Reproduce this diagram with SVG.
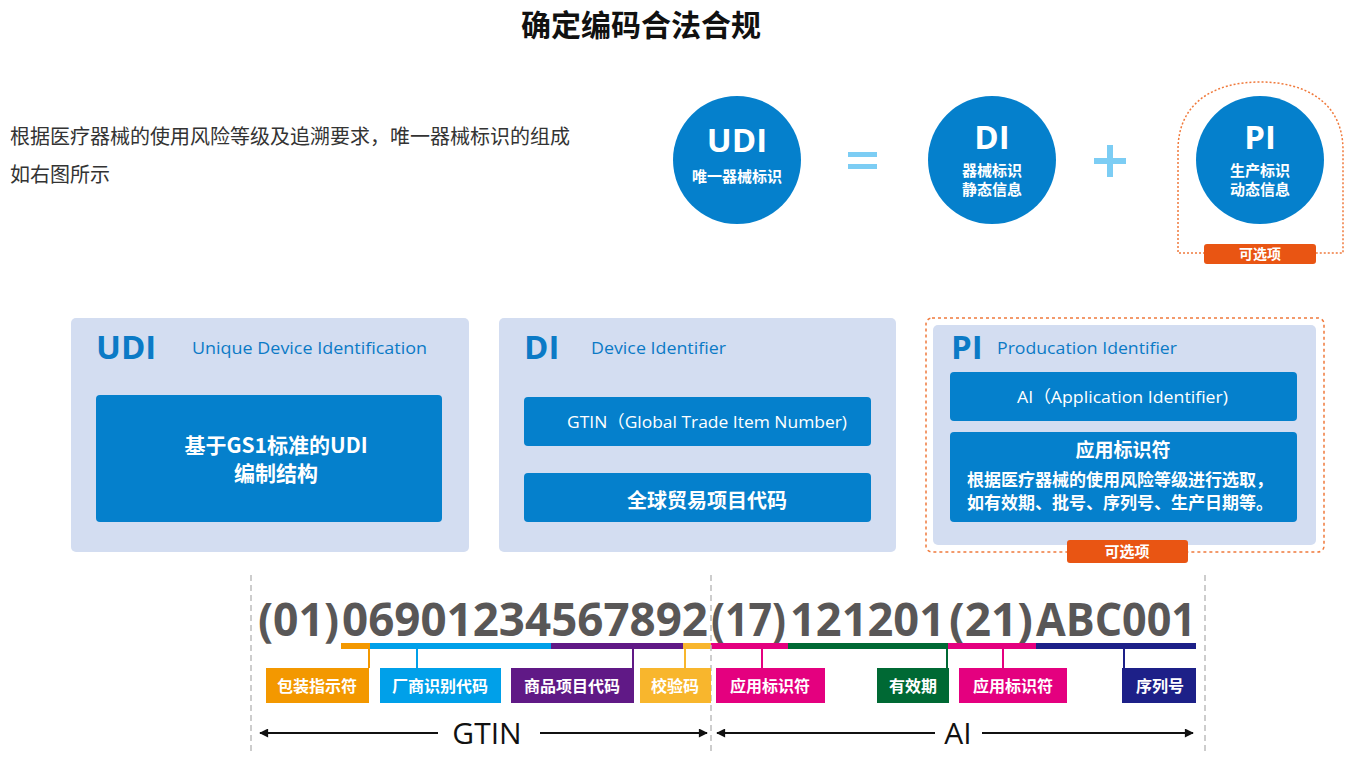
<svg xmlns="http://www.w3.org/2000/svg" width="1353" height="760" viewBox="0 0 1353 760">
<defs>
<style>
text{font-family:"Open Sans","Noto Sans CJK SC",sans-serif}
.cj{font-family:"Noto Sans CJK SC","Open Sans",sans-serif}
.circ{fill:#0580cc}
.panel{fill:#d3ddf1}
.inner{fill:#0580cc}
.wt{fill:#fff;font-weight:bold}
.hd{fill:#0b7ac6;font-weight:bold}
.sub{fill:#0b7ac6}
.badge{fill:#e95513}
.code{font-size:46px;font-weight:bold;fill:#595757}
.lbl{fill:#fff;font-size:16px;font-weight:bold;text-anchor:middle}
.dash{stroke:#bdbdbd;stroke-width:1.5;stroke-dasharray:6 4;fill:none}
.arr{stroke:#111;stroke-width:2;fill:none}
</style>
<marker id="ah" viewBox="0 0 10 10" refX="9" refY="5" markerWidth="10" markerHeight="9" markerUnits="userSpaceOnUse" orient="auto-start-reverse">
<path d="M0,0 L10,5 L0,10 z" fill="#111"/>
</marker>
</defs>
<rect width="1353" height="760" fill="#fff"/>

<g id="title">
<text class="cj" x="641" y="36" font-size="30" font-weight="bold" fill="#111" text-anchor="middle">确定编码合法合规</text>
</g>

<g id="intro">
<text class="cj" x="10" y="144" font-size="20" fill="#333">根据医疗器械的使用风险等级及追溯要求，唯一器械标识的组成</text>
<text class="cj" x="10" y="182" font-size="20" fill="#333">如右图所示</text>
</g>

<g id="udi-circle">
<circle class="circ" cx="737" cy="160" r="64"/>
<text class="wt" x="737" y="152" font-size="33" text-anchor="middle">UDI</text>
<text class="wt cj" x="737" y="182" font-size="15" text-anchor="middle">唯一器械标识</text>
</g>

<g id="equals">
<rect x="848" y="152" width="29" height="5" fill="#7ccdf4"/>
<rect x="848" y="164" width="29" height="5" fill="#7ccdf4"/>
</g>

<g id="di-circle">
<circle class="circ" cx="992" cy="160" r="64"/>
<text class="wt" x="992" y="149" font-size="33" text-anchor="middle">DI</text>
<text class="wt cj" x="992" y="176" font-size="15" text-anchor="middle">器械标识</text>
<text class="wt cj" x="992" y="195" font-size="15" text-anchor="middle">静态信息</text>
</g>

<g id="plus">
<rect x="1094" y="158" width="32" height="6" fill="#7ccdf4"/>
<rect x="1107" y="145" width="6" height="32" fill="#7ccdf4"/>
</g>

<g id="pi-circle">
<path d="M1205,253 L1178,253 L1178,150 C1178,102 1215,82 1260,82 C1305,82 1343,102 1343,150 L1343,253 L1316,253" fill="none" stroke="#f07a3c" stroke-width="1.5" stroke-dasharray="2 2"/>
<circle class="circ" cx="1260" cy="160" r="64"/>
<text class="wt" x="1260" y="149" font-size="33" text-anchor="middle">PI</text>
<text class="wt cj" x="1260" y="176" font-size="15" text-anchor="middle">生产标识</text>
<text class="wt cj" x="1260" y="195" font-size="15" text-anchor="middle">动态信息</text>
<rect class="badge" x="1204" y="244" width="112" height="20" rx="3"/>
<text class="wt cj" x="1260" y="259" font-size="14" text-anchor="middle">可选项</text>
</g>

<g id="udi-box">
<rect class="panel" x="71" y="318" width="398" height="234" rx="5"/>
<text class="hd" x="96" y="359" font-size="33">UDI</text>
<text class="sub" x="192" y="354" font-size="17" textLength="235" lengthAdjust="spacingAndGlyphs">Unique Device Identification</text>
<rect class="inner" x="96" y="395" width="346" height="127" rx="4"/>
<text class="wt cj" x="276" y="453" font-size="21" text-anchor="middle">基于GS1标准的UDI</text>
<text class="wt cj" x="276" y="481" font-size="21" text-anchor="middle">编制结构</text>
</g>

<g id="di-box">
<rect class="panel" x="499" y="318" width="397" height="234" rx="5"/>
<text class="hd" x="524" y="359" font-size="33">DI</text>
<text class="sub" x="591" y="354" font-size="17" textLength="135" lengthAdjust="spacingAndGlyphs">Device Identifier</text>
<rect class="inner" x="524" y="397" width="347" height="49" rx="4"/>
<text x="567" y="428" font-size="17" fill="#fff" textLength="280" lengthAdjust="spacingAndGlyphs">GTIN（Global Trade Item Number)</text>
<rect class="inner" x="524" y="473" width="347" height="49" rx="4"/>
<text class="wt cj" x="707" y="508" font-size="20" text-anchor="middle">全球贸易项目代码</text>
</g>

<g id="pi-box">
<rect x="926" y="318" width="398" height="234" rx="6" fill="none" stroke="#f07a3c" stroke-width="1.5" stroke-dasharray="3 3"/>
<rect class="panel" x="933" y="325" width="383" height="220" rx="5"/>
<text class="hd" x="951" y="359" font-size="33">PI</text>
<text class="sub" x="997" y="354" font-size="17" textLength="180" lengthAdjust="spacingAndGlyphs">Producation Identifier</text>
<rect class="inner" x="950" y="372" width="347" height="49" rx="4"/>
<text x="1017" y="403" font-size="17" fill="#fff" textLength="211" lengthAdjust="spacingAndGlyphs">AI（Application Identifier)</text>
<rect class="inner" x="950" y="432" width="347" height="90" rx="4"/>
<text class="wt cj" x="1123" y="457" font-size="19" text-anchor="middle">应用标识符</text>
<text class="wt cj" x="1120" y="486" font-size="17" text-anchor="middle">根据医疗器械的使用风险等级进行选取，</text>
<text class="wt cj" x="1120" y="509" font-size="17" text-anchor="middle">如有效期、批号、序列号、生产日期等。</text>
<rect class="badge" x="1067" y="540" width="121" height="23" rx="3"/>
<text class="wt cj" x="1127" y="557" font-size="15" text-anchor="middle">可选项</text>
</g>

<g id="code">
<text class="code" x="258" y="636" textLength="81" lengthAdjust="spacingAndGlyphs">(01)</text>
<text class="code" x="342" y="636" textLength="366" lengthAdjust="spacingAndGlyphs">06901234567892</text>
<text class="code" x="711" y="636" textLength="75" lengthAdjust="spacingAndGlyphs">(17)</text>
<text class="code" x="790" y="636" textLength="155" lengthAdjust="spacingAndGlyphs">121201</text>
<text class="code" x="949" y="636" textLength="84" lengthAdjust="spacingAndGlyphs">(21)</text>
<text class="code" x="1036" y="636" textLength="160" lengthAdjust="spacingAndGlyphs">ABC001</text>
<rect x="341" y="643" width="29" height="6" fill="#f39800"/>
<rect x="370" y="643" width="181" height="6" fill="#00a0e9"/>
<rect x="551" y="643" width="132" height="6" fill="#601986"/>
<rect x="683" y="643" width="28" height="6" fill="#f8b62d"/>
<rect x="711" y="643" width="77" height="6" fill="#e4007f"/>
<rect x="788" y="643" width="160" height="6" fill="#006934"/>
<rect x="948" y="643" width="88" height="6" fill="#e4007f"/>
<rect x="1036" y="643" width="160" height="6" fill="#1d2088"/>
</g>

<g id="dividers">
<line class="dash" x1="251" y1="575" x2="251" y2="755"/>
<line class="dash" x1="711" y1="575" x2="711" y2="755"/>
<line class="dash" x1="1205" y1="575" x2="1205" y2="755"/>
</g>

<g id="label-indicator">
<rect x="266" y="668" width="103" height="35" fill="#f39800"/>
<text class="lbl cj" x="317" y="692">包装指示符</text>
</g>
<g id="label-company">
<rect x="380" y="668" width="121" height="35" fill="#00a0e9"/>
<text class="lbl cj" x="440" y="692">厂商识别代码</text>
</g>
<g id="label-item">
<rect x="511" y="668" width="123" height="35" fill="#601986"/>
<text class="lbl cj" x="572" y="692">商品项目代码</text>
</g>
<g id="label-check">
<rect x="640" y="668" width="71" height="35" fill="#f8b62d"/>
<text class="lbl cj" x="675" y="692">校验码</text>
</g>
<g id="label-ai1">
<rect x="716" y="668" width="109" height="35" fill="#e4007f"/>
<text class="lbl cj" x="770" y="692">应用标识符</text>
</g>
<g id="label-expiry">
<rect x="877" y="668" width="72" height="35" fill="#006934"/>
<text class="lbl cj" x="913" y="692">有效期</text>
</g>
<g id="label-ai2">
<rect x="959" y="668" width="108" height="35" fill="#e4007f"/>
<text class="lbl cj" x="1013" y="692">应用标识符</text>
</g>
<g id="label-serial">
<rect x="1122" y="668" width="74" height="35" fill="#1d2088"/>
<text class="lbl cj" x="1160" y="692">序列号</text>
</g>

<g id="connectors">
<line x1="369" y1="646" x2="369" y2="668" stroke="#f39800" stroke-width="2"/>
<line x1="417" y1="646" x2="417" y2="668" stroke="#00a0e9" stroke-width="2"/>
<line x1="633" y1="646" x2="633" y2="668" stroke="#601986" stroke-width="2"/>
<line x1="685" y1="646" x2="685" y2="668" stroke="#f8b62d" stroke-width="2"/>
<line x1="762" y1="646" x2="762" y2="668" stroke="#e4007f" stroke-width="2"/>
<line x1="947" y1="646" x2="947" y2="668" stroke="#006934" stroke-width="2"/>
<line x1="1003" y1="646" x2="1003" y2="668" stroke="#e4007f" stroke-width="2"/>
<line x1="1124" y1="646" x2="1124" y2="668" stroke="#1d2088" stroke-width="2"/>
<line class="arr" x1="438" y1="733" x2="260" y2="733" marker-end="url(#ah)"/>
<line class="arr" x1="540" y1="733" x2="707" y2="733" marker-end="url(#ah)"/>
<line class="arr" x1="935" y1="733" x2="717" y2="733" marker-end="url(#ah)"/>
<line class="arr" x1="982" y1="733" x2="1193" y2="733" marker-end="url(#ah)"/>
</g>

<g id="span-labels">
<text x="487" y="744" font-size="30" fill="#111" text-anchor="middle">GTIN</text>
<text x="958" y="744" font-size="30" fill="#111" text-anchor="middle">AI</text>
</g>
</svg>
